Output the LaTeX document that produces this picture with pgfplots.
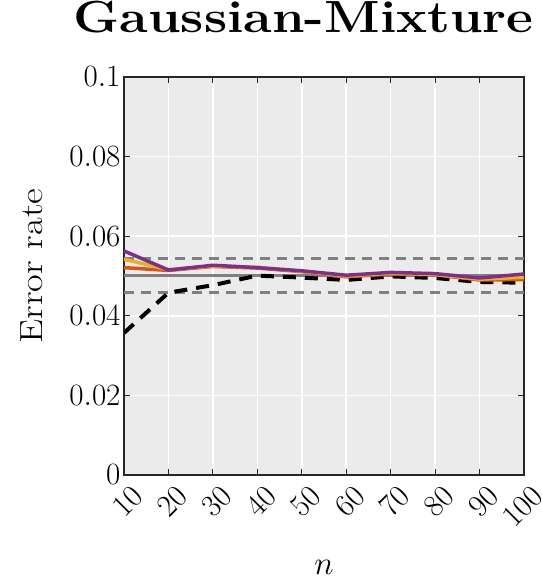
\RequirePackage{fix-cm}
\documentclass[border=0pt]{standalone}
\usepackage{graphicx}
\usepackage{pgfplots}
\pgfplotsset{compat=1.18}
\definecolor{mlorange}{rgb}{0.85,0.325,0.098}
\definecolor{mlyellow}{rgb}{0.929,0.694,0.125}
\definecolor{mlpurple}{rgb}{0.494,0.184,0.556}
\definecolor{axbg}{RGB}{235,235,235}
\definecolor{axline}{rgb}{0.15,0.15,0.15}
\definecolor{refgray}{rgb}{0.5,0.5,0.5}
\pgfplotstableread{
n    black   orange  yellow  purple
10   0.0357  0.0521  0.0542  0.0563
20   0.0458  0.0514  0.0516  0.0515
30   0.0477  0.0524  0.0525  0.0527
40   0.0501  0.0520  0.0522  0.0521
50   0.0496  0.0511  0.0512  0.0513
60   0.0490  0.0498  0.0500  0.0502
70   0.0499  0.0505  0.0507  0.0509
80   0.0495  0.0503  0.0504  0.0506
90   0.0485  0.0490  0.0492  0.0495
100  0.0483  0.0491  0.0497  0.0505
}\datatable
\begin{document}
\begin{tikzpicture}
\useasboundingbox (-124pt,-108pt) rectangle (417pt,475pt);
\begin{axis}[
  at={(0pt,0pt)}, anchor=south west,
  scale only axis, width=400pt, height=398pt,
  xmin=10, xmax=100, ymin=0, ymax=0.1,
  xtick={10,20,30,40,50,60,70,80,90,100},
  ytick={0,0.02,0.04,0.06,0.08,0.1},
  scaled y ticks=false,
  yticklabel style={font=\fontsize{31}{31}\selectfont, /pgf/number format/fixed, /pgf/number format/precision=2},
  xticklabel style={font=\fontsize{31}{31}\selectfont, xshift=16pt, yshift=-14pt, rotate=45, anchor=east},
  axis background/.style={fill=axbg},
  grid=major, major grid style={white, line width=1.5pt},
  axis line style={axline, line width=1.2pt},
  tick style={axline, line width=1.2pt},
  tick align=inside, major tick length=6pt,
  xlabel={$n$},
  xlabel style={font=\fontsize{33}{33}\selectfont, at={(axis description cs:0.5,-0.231)}, anchor=center},
  ylabel={\scalebox{1.2}[1]{Error rate}},
  ylabel style={font=\fontsize{32}{32}\selectfont, at={(axis description cs:-0.23,0.525)}, anchor=center},
  title={\scalebox{1.16}[1]{\bfseries Gaussian-Mixture}},
  title style={font=\fontsize{45}{45}\selectfont, at={(axis description cs:0.449,1)}, anchor=base, yshift=38pt},
]
\addplot[refgray, line width=2.5pt, dash pattern=on 10pt off 7pt] coordinates {(10,0.0544) (100,0.0544)};
\addplot[refgray, line width=2.5pt] coordinates {(10,0.0501) (100,0.0501)};
\addplot[refgray, line width=2.5pt, dash pattern=on 10pt off 7pt] coordinates {(10,0.0458) (100,0.0458)};
\addplot[black, line width=4pt, dash pattern=on 13pt off 9pt] table[x=n, y=black] {\datatable};
\addplot[mlorange, line width=3.5pt] table[x=n, y=orange] {\datatable};
\addplot[mlyellow, line width=3.5pt] table[x=n, y=yellow] {\datatable};
\addplot[mlpurple, line width=3.5pt] table[x=n, y=purple] {\datatable};
\end{axis}
\end{tikzpicture}
\end{document}
